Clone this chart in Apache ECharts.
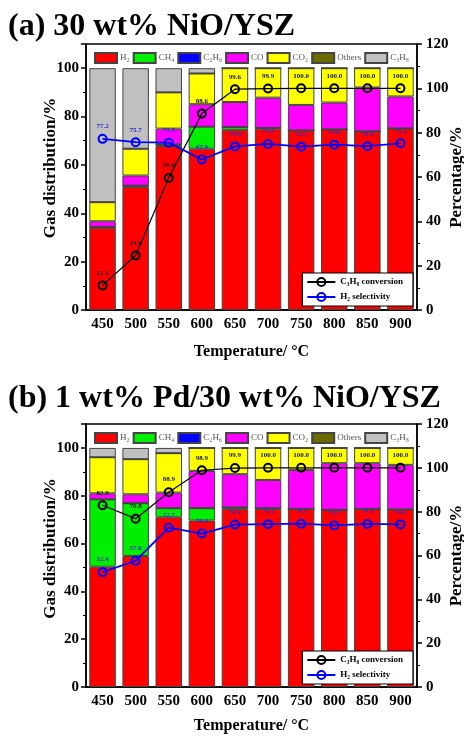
<!DOCTYPE html>
<html>
<head>
<meta charset="utf-8">
<script src="https://cdn.jsdelivr.net/npm/echarts@6/dist/echarts.min.js"></script>
<style>
  html, body { margin: 0; padding: 0; background: #fff; }
  #main { width: 464px; height: 736px; }
</style>
</head>
<body>
<div id="main"></div>
<script>
// categories
var temps = ['450', '500', '550', '600', '650', '700', '750', '800', '850', '900'];

// (a) 30 wt% NiO/YSZ - gas distribution (%)
var aH2   = [34.0, 50.9, 67.8, 66.7, 74.5, 75.0, 74.3, 74.7, 73.9, 75.1];
var aCH4  = [0.3, 0.5, 0.7, 9.1, 1.2, 0.3, 0, 0, 0, 0];
var aC2H6 = [0, 0, 0, 0, 0, 0, 0, 0, 0, 0];
var aCO   = [2.4, 4.2, 6.5, 9.3, 10.3, 12.5, 10.5, 11.1, 18.1, 13.2];
var aCO2  = [7.9, 11.1, 15.0, 12.7, 14.0, 12.2, 15.2, 14.2, 8.0, 11.7];
var aOth  = [0, 0, 0, 0, 0, 0, 0, 0, 0, 0];
var aC3H8 = [55.4, 33.3, 10.0, 2.2, 0, 0, 0, 0, 0, 0];
var aConv = [11.1, 24.6, 59.6, 88.6, 99.6, 99.9, 100.0, 100.0, 100.0, 100.0];
var aSel  = [77.2, 75.7, 75.5, 67.9, 73.8, 74.9, 73.7, 74.6, 73.9, 75.2];

// (b) 1 wt% Pd/30 wt% NiO/YSZ
var bH2   = [50.3, 54.8, 71.0, 69.6, 74.5, 74.5, 74.5, 74.1, 74.5, 74.3];
var bCH4  = [28.2, 22.1, 3.8, 5.2, 0.6, 0.3, 0, 0, 0, 0];
var bC2H6 = [0, 0, 0, 0, 0, 0, 0, 0, 0, 0];
var bCO   = [2.5, 3.7, 6.5, 15.6, 13.9, 11.8, 16.3, 19.5, 19.1, 18.6];
var bCO2  = [15.1, 14.7, 16.5, 9.6, 11.0, 13.4, 9.2, 6.4, 6.4, 7.1];
var bOth  = [0, 0, 0, 0, 0, 0, 0, 0, 0, 0];
var bC3H8 = [3.9, 4.7, 2.2, 0, 0, 0, 0, 0, 0, 0];
var bConv = [82.9, 76.8, 88.9, 98.9, 99.9, 100.0, 100.0, 100.0, 100.0, 100.0];
var bSel  = [52.4, 57.6, 72.7, 70.0, 74.1, 74.3, 74.5, 73.7, 74.4, 74.2];

var gasNames = ['H\u2082', 'CH\u2084', 'C\u2082H\u2086', 'CO', 'CO\u2082', 'Others', 'C\u2083H\u2088'];
var gasColors = ['#ff0000', '#00ee00', '#0000ff', '#ff00ff', '#ffff00', '#6b6b00', '#c0c0c0'];
var convName = 'C\u2083H\u2088 conversion';
var selName = 'H\u2082 selectivity';

var font = 'Liberation Serif, Times New Roman, serif';

var chart = echarts.init(document.getElementById('main'));

var grids = [
  {left: 86, right: 47, top: 44, height: 266},
  {left: 86, right: 47, top: 424, height: 263}
];

function xAxisFor(idx, gap) {
  return {
    type: 'category', gridIndex: idx, data: temps,
    name: 'Temperature/ \u00B0C', nameLocation: 'middle', nameGap: gap,
    nameTextStyle: {fontFamily: font, fontWeight: 'bold', fontSize: 16, color: '#000'},
    axisLine: {lineStyle: {color: '#000', width: 1.5}},
    axisTick: {show: false},
    axisLabel: {fontFamily: font, fontWeight: 'bold', fontSize: 15, color: '#000', margin: 7}
  };
}

function leftAxis(idx, pad) {
  return {
    type: 'value', gridIndex: idx, min: 0, max: 110, interval: 20,
    name: 'Gas distribution/%', nameLocation: 'middle', nameGap: 27, nameRotate: 90,
    nameMoveOverlap: false,
    nameTextStyle: {fontFamily: font, fontWeight: 'bold', fontSize: 17, color: '#000', padding: [0, 0, 0, pad]},
    axisLine: {show: true, lineStyle: {color: '#000', width: 1.5}},
    axisTick: {show: true, inside: false, length: 5, lineStyle: {color: '#000', width: 1.5}},
    minorTick: {show: true, splitNumber: 2, length: 3, lineStyle: {color: '#000', width: 1}},
    splitLine: {show: false},
    axisLabel: {
      fontFamily: font, fontWeight: 'bold', fontSize: 15, color: '#000', margin: 7,
      formatter: function (v) { return v > 100 ? '' : v; }
    }
  };
}

function rightAxis(idx) {
  return {
    type: 'value', gridIndex: idx, position: 'right', min: 0, max: 120, interval: 20,
    name: 'Percentage/%', nameLocation: 'middle', nameGap: 31, nameRotate: 90,
    nameMoveOverlap: false,
    nameTextStyle: {fontFamily: font, fontWeight: 'bold', fontSize: 17, color: '#000'},
    axisLine: {show: true, lineStyle: {color: '#000', width: 1.5}},
    axisTick: {show: true, inside: false, length: 5, lineStyle: {color: '#000', width: 1.5}},
    minorTick: {show: true, splitNumber: 2, length: 3, lineStyle: {color: '#000', width: 1}},
    splitLine: {show: false},
    axisLabel: {fontFamily: font, fontWeight: 'bold', fontSize: 15, color: '#000', margin: 9}
  };
}

function barSeries(idx, stack, arrays) {
  return arrays.map(function (arr, i) {
    return {
      name: gasNames[i], type: 'bar', stack: stack,
      xAxisIndex: idx, yAxisIndex: idx * 2,
      barCategoryGap: '20%', data: arr,
      itemStyle: {color: gasColors[i], borderColor: '#444', borderWidth: 1}
    };
  });
}

function lineSeries(idx, name, arr, color, labelColor) {
  return {
    name: name, type: 'line', xAxisIndex: idx, yAxisIndex: idx * 2 + 1,
    data: arr, z: 5,
    symbol: 'circle', symbolSize: 8,
    lineStyle: {color: color, width: name === selName ? 1.8 : 1.2},
    itemStyle: {color: 'rgba(255,255,255,0)', borderColor: color, borderWidth: 2},
    label: {
      show: true, position: 'top', distance: 4,
      fontFamily: font, fontWeight: 'bold', fontSize: 7, color: labelColor,
      formatter: function (p) { return p.value.toFixed(1); }
    }
  };
}

function barLegend(top) {
  return {
    data: gasNames.map(function (n) { return {name: n, icon: 'rect'}; }),
    left: 89, top: top, itemWidth: 22, itemHeight: 10, itemGap: 3,
    textStyle: {fontFamily: font, fontSize: 9, color: '#555', padding: [0, 0, 0, -2]}
  };
}

function lineLegend(top) {
  return {
    data: [convName, selName], orient: 'vertical', right: 51, top: top,
    itemWidth: 28, itemHeight: 10, itemGap: 5,
    padding: [4, 10, 4, 4],
    backgroundColor: '#fff', borderColor: '#000', borderWidth: 1.2,
    textStyle: {fontFamily: font, fontSize: 9, fontWeight: 'bold', color: '#000'}
  };
}

var series = []
  .concat(barSeries(0, 'a', [aH2, aCH4, aC2H6, aCO, aCO2, aOth, aC3H8]))
  .concat([lineSeries(0, convName, aConv, '#000', '#111'), lineSeries(0, selName, aSel, '#0000ff', '#2a2ad0')])
  .concat(barSeries(1, 'b', [bH2, bCH4, bC2H6, bCO, bCO2, bOth, bC3H8]))
  .concat([lineSeries(1, convName, bConv, '#000', '#111'), lineSeries(1, selName, bSel, '#0000ff', '#2a2ad0')]);

var option = {
  backgroundColor: '#fff',
  animation: false,
  title: [
    {text: '(a) 30 wt% NiO/YSZ', left: 3, top: 6,
     textStyle: {fontFamily: font, fontWeight: 'bold', fontSize: 32, color: '#000'}},
    {text: '(b) 1 wt% Pd/30 wt% NiO/YSZ', left: 3, top: 378,
     textStyle: {fontFamily: font, fontWeight: 'bold', fontSize: 32, color: '#000'}}
  ],
  grid: grids.map(function (g) {
    return {left: g.left, right: g.right, top: g.top, height: g.height,
            containLabel: false, outerBoundsMode: 'none',
            show: true, borderColor: '#000', borderWidth: 1.5, backgroundColor: 'transparent'};
  }),
  legend: [barLegend(47), lineLegend(273), barLegend(427), lineLegend(651)],
  xAxis: [xAxisFor(0, 34), xAxisFor(1, 31)],
  yAxis: [leftAxis(0, 18), rightAxis(0), leftAxis(1, 14), rightAxis(1)],
  series: series
};

chart.setOption(option);
</script>
</body>
</html>
